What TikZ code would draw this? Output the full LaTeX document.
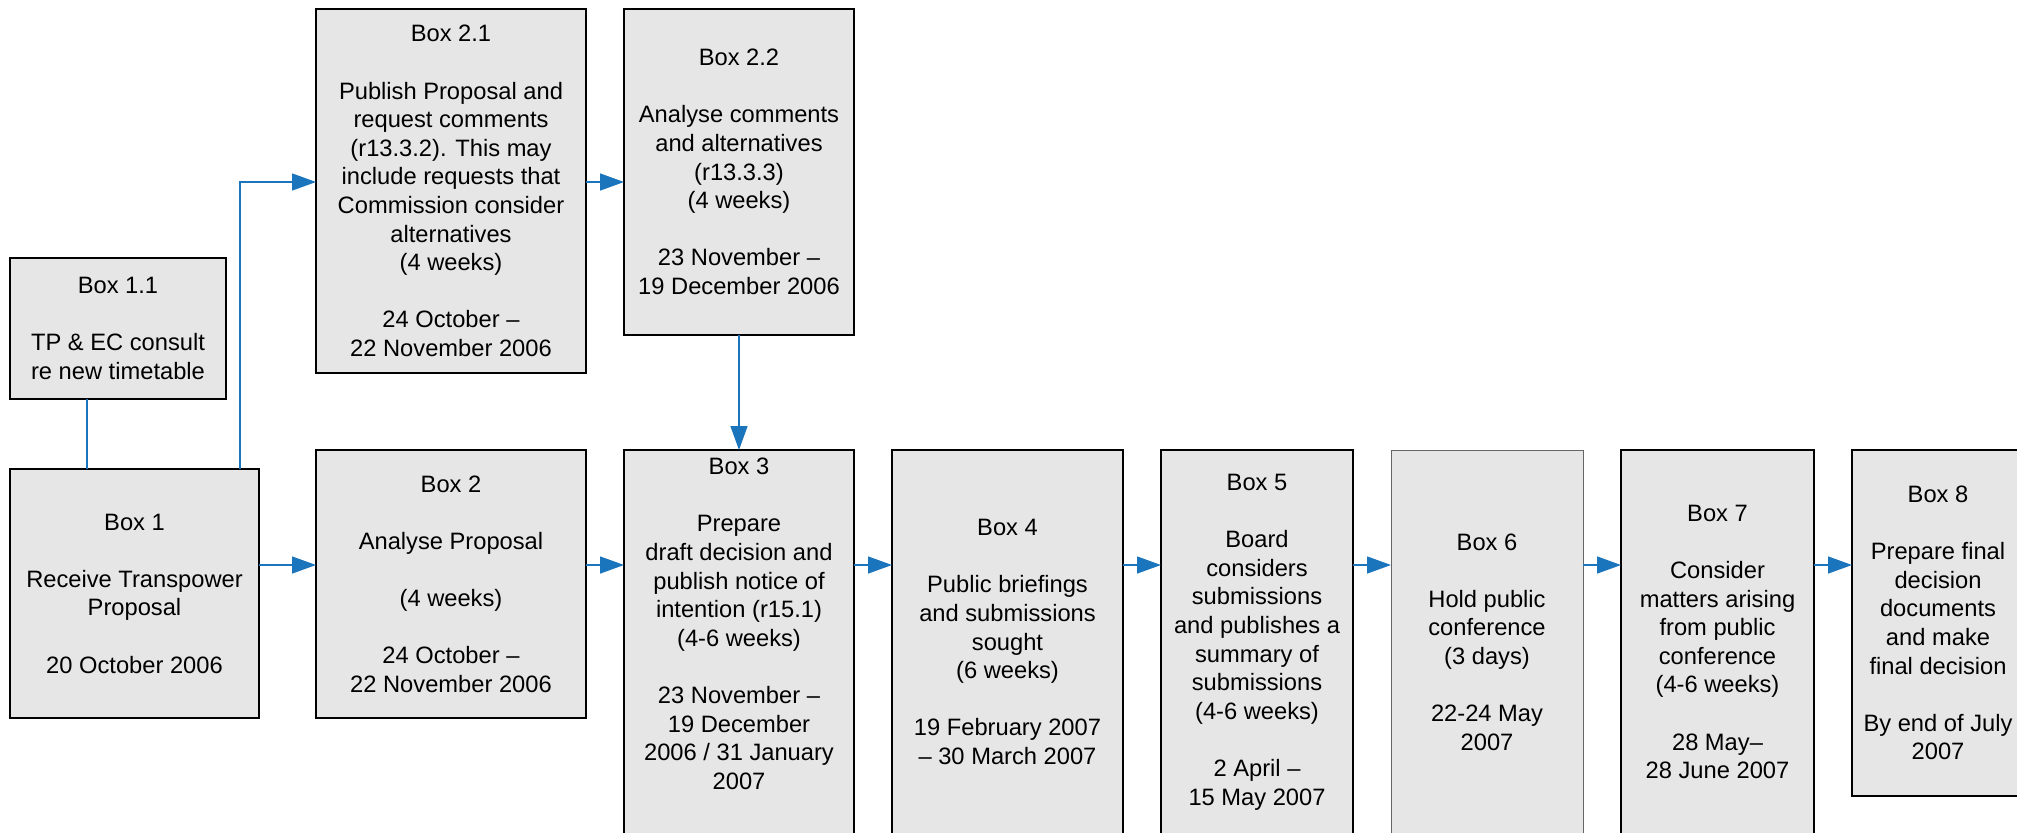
\documentclass[tikz,border=0pt]{standalone}
\usepackage{fontspec}
\setmainfont{Liberation Sans}
\usetikzlibrary{positioning,arrows.meta}
\definecolor{boxgray}{RGB}{230,230,230}
\definecolor{flowblue}{RGB}{27,117,188}

\begin{document}
\begin{tikzpicture}[
    x=0.5pt,y=-0.5pt,
    font=\fontsize{11.85}{14.3}\selectfont,
    base/.style={rectangle,draw,fill=boxgray,line width=1pt,inner sep=0pt,outer sep=0pt,align=center},
    stage/.style={base,minimum height=192pt},
    link/.style={draw=flowblue,line width=0.7pt},
    flow/.style={link,-{Triangle[length=12pt,width=8.5pt]}}
  ]
  \useasboundingbox (0,0) rectangle (2017,832);
  \clip (0,0) rectangle (2017,832);

  % first column
  \node(b11) [base,minimum width=108pt,minimum height=70.5pt] at (118,328.5)
    {Box 1.1\\[14.3pt]TP \& EC consult\\re new timetable};
  \node(b1) [base,minimum width=124.5pt,minimum height=124.5pt] at (134.5,593.5)
    {Box 1\\[14.3pt]Receive Transpower\\Proposal\\[14.3pt]20 October 2006};

  % upper branch
  \node(b21) [base,minimum width=135pt,minimum height=182pt] at (451,191)
    {Box 2.1\\[14.3pt]Publish Proposal and\\request comments\\(r13.3.2). This may\\include requests that\\Commission consider\\alternatives\\(4 weeks)\\[14.3pt]24 October --\\22 November 2006};
  \node(b22) [base,minimum width=115pt,minimum height=163pt,right=19pt of b21.north east,anchor=north west]
    {Box 2.2\\[14.3pt]Analyse comments\\and alternatives\\(r13.3.3)\\(4 weeks)\\[14.3pt]23 November --\\19 December 2006};

  % main row
  \node(b2) [base,minimum width=135pt,minimum height=134pt,below=38.5pt of b21]
    {Box 2\\[14.3pt]Analyse Proposal\\[14.3pt](4 weeks)\\[14.3pt]24 October --\\22 November 2006};

  \node(b3) [stage,minimum width=115pt,right=19pt of b2.north east,anchor=north west] {};
  \node(t3) [below=3.9pt of b3.north,align=center,inner sep=0pt]
    {Box 3\\[14.3pt]Prepare\\draft decision and\\publish notice of\\intention (r15.1)\\(4-6 weeks)\\[14.3pt]23 November --\\19 December\\2006 / 31 January\\2007};

  \node(b4) [stage,minimum width=115.5pt,right=19pt of b3.north east,anchor=north west]
    {Box 4\\[14.3pt]Public briefings\\and submissions\\sought\\(6 weeks)\\[14.3pt]19 February 2007\\-- 30 March 2007};

  \node(b5) [stage,minimum width=96pt,right=19pt of b4.north east,anchor=north west]
    {Box 5\\[14.3pt]Board\\considers\\submissions\\and publishes a\\summary of\\submissions\\(4-6 weeks)\\[14.3pt]2 April --\\15 May 2007};

  \node(b6) [stage,minimum width=96pt,line width=0.5pt,draw=black!60,right=19pt of b5.north east,anchor=north west]
    {Box 6\\[14.3pt]Hold public\\conference\\(3 days)\\[14.3pt]22-24 May\\2007};

  \node(b7) [stage,minimum width=96.5pt,right=19pt of b6.north east,anchor=north west]
    {Box 7\\[14.3pt]Consider\\matters arising\\from public\\conference\\(4-6 weeks)\\[14.3pt]28 May--\\28 June 2007};

  \node(b8) [base,minimum width=86pt,minimum height=173pt,right=19pt of b7.north east,anchor=north west]
    {Box 8\\[14.3pt]Prepare final\\decision\\documents\\and make\\final decision\\[14.3pt]By end of July\\2007};

  % connectors
  \coordinate(row) at (0,565);
  \coordinate(upper) at (0,182);

  \draw[link] ([xshift=-15.5pt]b11.south) -- ([xshift=-15.5pt]b11.south |- b1.north);
  \draw[flow] ([xshift=-9.5pt]b1.north east) |- (b21.west |- upper);
  \draw[flow] (b21.east |- upper) -- (b22.west |- upper);
  \draw[flow] (b22.south) -- (b3.north);

  \draw[flow] (b1.east |- row) -- (b2.west |- row);
  \draw[flow] (b2.east |- row) -- (b3.west |- row);
  \draw[flow] (b3.east |- row) -- (b4.west |- row);
  \draw[flow] (b4.east |- row) -- (b5.west |- row);
  \draw[flow] (b5.east |- row) -- (b6.west |- row);
  \draw[flow] (b6.east |- row) -- (b7.west |- row);
  \draw[flow] (b7.east |- row) -- (b8.west |- row);

\end{tikzpicture}
\end{document}
